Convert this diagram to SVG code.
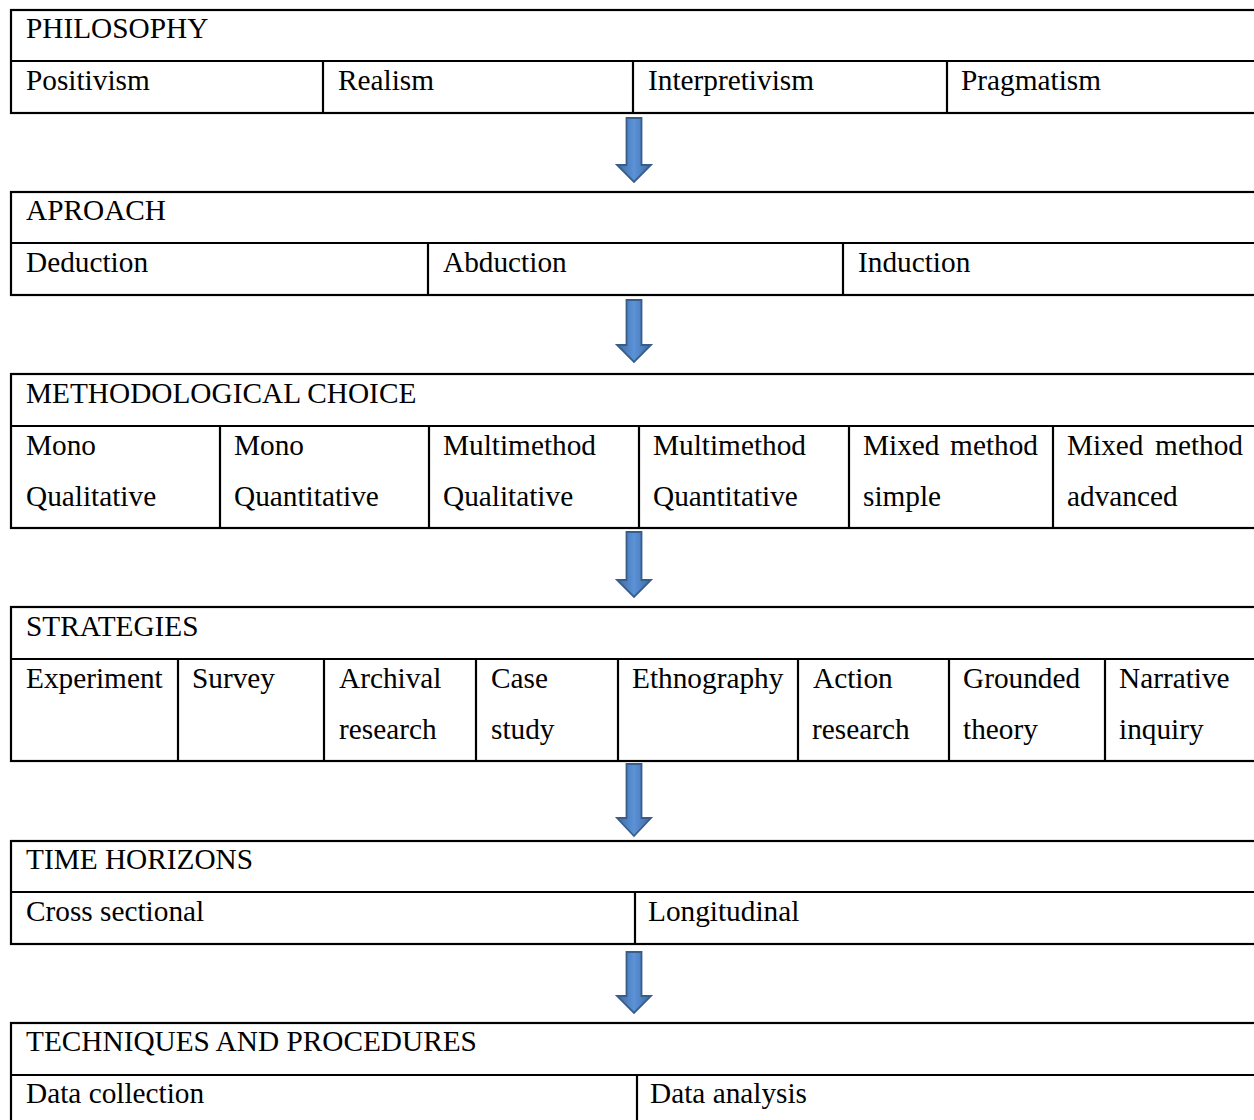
<svg xmlns="http://www.w3.org/2000/svg" width="1254" height="1120" viewBox="0 0 1254 1120">
<defs>
<linearGradient id="ag" x1="0" y1="0" x2="1" y2="0">
<stop offset="0" stop-color="#3F68A0"/>
<stop offset="0.5" stop-color="#5B93D8"/>
<stop offset="1" stop-color="#3F68A0"/>
</linearGradient>
</defs>
<style>
.b{fill:none;stroke:#000;stroke-width:2.2}
.l{stroke:#000;stroke-width:2.2}
.a{fill:url(#ag);stroke:#385D8A;stroke-width:1.8}
text{font-family:"Liberation Serif","Times New Roman",serif;font-size:29.3px;fill:#000}
</style>
<rect width="1254" height="1120" fill="#fff"/>

<g id="philosophy">
<rect class="b" x="11" y="10" width="1260" height="103"/>
<line class="l" x1="11" y1="61" x2="1271" y2="61"/>
<line class="l" x1="323" y1="61" x2="323" y2="113"/>
<line class="l" x1="633" y1="61" x2="633" y2="113"/>
<line class="l" x1="947" y1="61" x2="947" y2="113"/>
<text x="26" y="38">PHILOSOPHY</text>
<text x="26" y="90">Positivism</text>
<text x="338" y="90">Realism</text>
<text x="648" y="90">Interpretivism</text>
<text x="961" y="90">Pragmatism</text>
</g>

<g id="approach">
<rect class="b" x="11" y="192" width="1260" height="103"/>
<line class="l" x1="11" y1="243" x2="1271" y2="243"/>
<line class="l" x1="428" y1="243" x2="428" y2="295"/>
<line class="l" x1="843" y1="243" x2="843" y2="295"/>
<text x="26" y="220">APROACH</text>
<text x="26" y="272">Deduction</text>
<text x="443" y="272">Abduction</text>
<text x="858" y="272">Induction</text>
</g>

<g id="methodological-choice">
<rect class="b" x="11" y="374" width="1260" height="154"/>
<line class="l" x1="11" y1="426" x2="1271" y2="426"/>
<line class="l" x1="220" y1="426" x2="220" y2="528"/>
<line class="l" x1="429" y1="426" x2="429" y2="528"/>
<line class="l" x1="639" y1="426" x2="639" y2="528"/>
<line class="l" x1="849" y1="426" x2="849" y2="528"/>
<line class="l" x1="1053" y1="426" x2="1053" y2="528"/>
<text x="26" y="403">METHODOLOGICAL CHOICE</text>
<text x="26" y="455">Mono</text>
<text x="26" y="506">Qualitative</text>
<text x="234" y="455">Mono</text>
<text x="234" y="506">Quantitative</text>
<text x="443" y="455">Multimethod</text>
<text x="443" y="506">Qualitative</text>
<text x="653" y="455">Multimethod</text>
<text x="653" y="506">Quantitative</text>
<text x="863" y="455">Mixed</text>
<text x="1038" y="455" text-anchor="end">method</text>
<text x="863" y="506">simple</text>
<text x="1067" y="455">Mixed</text>
<text x="1243" y="455" text-anchor="end">method</text>
<text x="1067" y="506">advanced</text>
</g>

<g id="strategies">
<rect class="b" x="11" y="607" width="1260" height="154"/>
<line class="l" x1="11" y1="659" x2="1271" y2="659"/>
<line class="l" x1="178" y1="659" x2="178" y2="761"/>
<line class="l" x1="324" y1="659" x2="324" y2="761"/>
<line class="l" x1="476" y1="659" x2="476" y2="761"/>
<line class="l" x1="618" y1="659" x2="618" y2="761"/>
<line class="l" x1="798" y1="659" x2="798" y2="761"/>
<line class="l" x1="949" y1="659" x2="949" y2="761"/>
<line class="l" x1="1105" y1="659" x2="1105" y2="761"/>
<text x="26" y="636">STRATEGIES</text>
<text x="26" y="688">Experiment</text>
<text x="192" y="688">Survey</text>
<text x="339" y="688">Archival</text>
<text x="339" y="739">research</text>
<text x="491" y="688">Case</text>
<text x="491" y="739">study</text>
<text x="632" y="688">Ethnography</text>
<text x="813" y="688">Action</text>
<text x="812" y="739">research</text>
<text x="963" y="688">Grounded</text>
<text x="963" y="739">theory</text>
<text x="1119" y="688">Narrative</text>
<text x="1119" y="739">inquiry</text>
</g>

<g id="time-horizons">
<rect class="b" x="11" y="841" width="1260" height="103"/>
<line class="l" x1="11" y1="892" x2="1271" y2="892"/>
<line class="l" x1="635" y1="892" x2="635" y2="944"/>
<text x="26" y="869">TIME HORIZONS</text>
<text x="26" y="921">Cross sectional</text>
<text x="648" y="921">Longitudinal</text>
</g>

<g id="techniques-and-procedures">
<rect class="b" x="11" y="1023" width="1260" height="120"/>
<line class="l" x1="11" y1="1075" x2="1271" y2="1075"/>
<line class="l" x1="637" y1="1075" x2="637" y2="1143"/>
<text x="26" y="1051">TECHNIQUES AND PROCEDURES</text>
<text x="26" y="1103">Data collection</text>
<text x="650" y="1103">Data analysis</text>
</g>

<g id="connectors">
<path class="a" d="M626.5,118 H641.5 V165 H651 L634,182 L617,165 H626.5 Z"/>
<path class="a" d="M626.5,300 H641.5 V345 H651 L634,362 L617,345 H626.5 Z"/>
<path class="a" d="M626.5,532 H641.5 V580 H651 L634,597 L617,580 H626.5 Z"/>
<path class="a" d="M626.5,764 H641.5 V818 H651 L634,836 L617,818 H626.5 Z"/>
<path class="a" d="M626.5,952 H641.5 V996 H651 L634,1013 L617,996 H626.5 Z"/>
</g>
</svg>
